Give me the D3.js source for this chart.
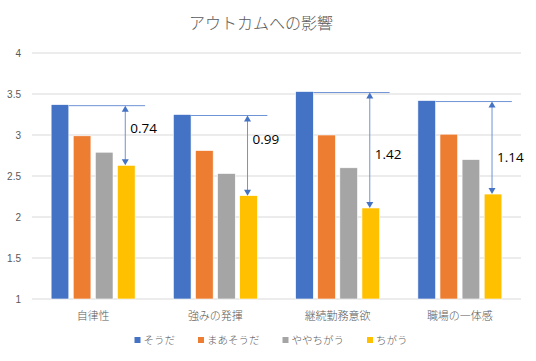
<!DOCTYPE html>
<html>
<head>
<meta charset="utf-8">
<script src="https://cdn.jsdelivr.net/npm/d3@7"></script>
<style>
  body { margin: 0; background: #fff; }
  svg { display: block; font-family: "Noto Sans CJK JP", "Noto Sans", sans-serif; }
</style>
</head>
<body>
<svg id="chart" width="536" height="361"></svg>
<script>
"use strict";

// Categories and series
var categories = ["自律性", "強みの発揮", "継続勤務意欲", "職場の一体感"];
var seriesNames = ["そうだ", "まあそうだ", "ややちがう", "ちがう"];
var seriesColors = ["#4472C4", "#ED7D31", "#A5A5A5", "#FFC000"];

var soudaVals = [3.37, 3.25, 3.53, 3.42];
var maasoudaVals = [2.99, 2.81, 3.00, 3.01];
var yayachigauVals = [2.79, 2.53, 2.60, 2.70];
var chigauVals = [2.63, 2.26, 2.11, 2.28];

// Gap labels between そうだ and ちがう, and where (in value units) each label sits
var gapLabels = ["0.74", "0.99", "1.42", "1.14"];
var gapLabelAt = [3.08, 2.95, 2.76, 2.73];

var yTicks = [1, 1.5, 2, 2.5, 3, 3.5, 4];

var svg = d3.select("#chart"),
  margin = {top: 53, right: 15, bottom: 62, left: 32},
  width = +svg.attr("width"),
  height = +svg.attr("height");

var allVals = [soudaVals, maasoudaVals, yayachigauVals, chigauVals];

// Scales
var x0 = d3.scaleBand()
  .domain(categories)
  .range([margin.left, width - margin.right])
  .paddingInner(0.313)
  .paddingOuter(0.1565);

var x1 = d3.scaleBand()
  .domain(d3.range(seriesNames.length))
  .range([0, x0.bandwidth()])
  .paddingInner(0.2);

var y = d3.scaleLinear()
  .domain([1, 4])
  .range([height - margin.bottom, margin.top]);

// Gridlines
svg.append("g")
  .selectAll("line")
  .data(yTicks)
  .enter().append("line")
  .attr("x1", margin.left)
  .attr("x2", width - margin.right)
  .attr("y1", function(d) { return y(d); })
  .attr("y2", function(d) { return y(d); })
  .attr("stroke", "#d9d9d9")
  .attr("stroke-width", 1);

// Y axis labels
var yAxis = svg.append("g")
  .attr("transform", "translate(" + (margin.left - 11) + ",0)")
  .call(d3.axisLeft(y).tickValues(yTicks).tickSize(0).tickPadding(0).tickFormat(d3.format("")));
yAxis.select(".domain").remove();
yAxis.selectAll("text")
  .attr("fill", "#595959")
  .style("font-size", "10px")
  .style("font-family", "'Liberation Sans', Arial, sans-serif");

// Bars
var groups = svg.append("g")
  .selectAll("g")
  .data(categories)
  .enter().append("g")
  .attr("transform", function(d) { return "translate(" + x0(d) + ",0)"; });

groups.selectAll("rect")
  .data(function(d, i) { return allVals.map(function(s, j) { return {s: j, v: s[i]}; }); })
  .enter().append("rect")
  .attr("x", function(d) { return x1(d.s); })
  .attr("width", x1.bandwidth())
  .attr("y", function(d) { return y(d.v); })
  .attr("height", function(d) { return y(1) - y(d.v); })
  .attr("fill", function(d) { return seriesColors[d.s]; })
  .attr("stroke", "#fff")
  .attr("stroke-width", 0.6);

// Category labels
svg.append("g")
  .selectAll("text")
  .data(categories)
  .enter().append("text")
  .attr("x", function(d) { return x0(d) + x0.bandwidth() / 2; })
  .attr("y", y(1) + 17)
  .attr("dy", "0.35em")
  .attr("text-anchor", "middle")
  .attr("fill", "#595959")
  .style("font-size", "11px")
  .style("font-weight", 300)
  .text(function(d) { return d; });

// Gap annotations: reference line at the そうだ level and a two-headed arrow down to ちがう
var arrowColor = "#4472C4";
categories.forEach(function(c, i) {
  var gx = x0(c);
  var top = y(soudaVals[i]) + 1;
  var bottom = y(chigauVals[i]);
  var ax = gx + x1(3) + x1.bandwidth() / 2 - 1;
  var g = svg.append("g");

  g.append("line")
    .attr("x1", gx + x1(0) + x1.bandwidth())
    .attr("x2", gx + x1(3) + x1.bandwidth() + 10)
    .attr("y1", top).attr("y2", top)
    .attr("stroke", "#6f94d6")
    .attr("stroke-width", 1);

  g.append("line")
    .attr("x1", ax).attr("x2", ax)
    .attr("y1", top + 5).attr("y2", bottom - 5)
    .attr("stroke", "#6f94d6")
    .attr("stroke-width", 1);

  g.append("path")
    .attr("d", "M" + ax + "," + top + "L" + (ax - 3.5) + "," + (top + 6) + "L" + (ax + 3.5) + "," + (top + 6) + "Z")
    .attr("fill", arrowColor);
  g.append("path")
    .attr("d", "M" + ax + "," + bottom + "L" + (ax - 3.5) + "," + (bottom - 6) + "L" + (ax + 3.5) + "," + (bottom - 6) + "Z")
    .attr("fill", arrowColor);

  g.append("text")
    .attr("x", ax + 5)
    .attr("y", y(gapLabelAt[i]))
    .attr("dy", "0.35em")
    .attr("fill", "#000")
    .style("font-size", "13.5px")
    .style("font-family", "'Open Sans', 'Liberation Sans', Arial, sans-serif")
    .text(gapLabels[i]);
});

// Title
svg.append("text")
  .attr("x", 261)
  .attr("y", 23)
  .attr("dy", "0.35em")
  .attr("text-anchor", "middle")
  .attr("fill", "#595959")
  .style("font-size", "16px")
  .style("font-weight", 300)
  .text("アウトカムへの影響");

// Legend
var legend = svg.append("g");
var lx = 0;
seriesNames.forEach(function(name, i) {
  var item = legend.append("g").attr("transform", "translate(" + lx + ",0)");
  item.append("rect")
    .attr("x", 0).attr("y", -3)
    .attr("width", 6).attr("height", 6)
    .attr("fill", seriesColors[i]);
  var t = item.append("text")
    .attr("x", 9)
    .attr("y", 0)
    .attr("dy", "0.35em")
    .attr("fill", "#595959")
    .style("font-size", "10.5px")
    .style("font-weight", 300)
    .text(name);
  lx += 9 + t.node().getComputedTextLength() + 23;
});
var legendWidth = lx - 23;
legend.attr("transform", "translate(" + (271 - legendWidth / 2) + ",340)");
</script>
</body>
</html>
